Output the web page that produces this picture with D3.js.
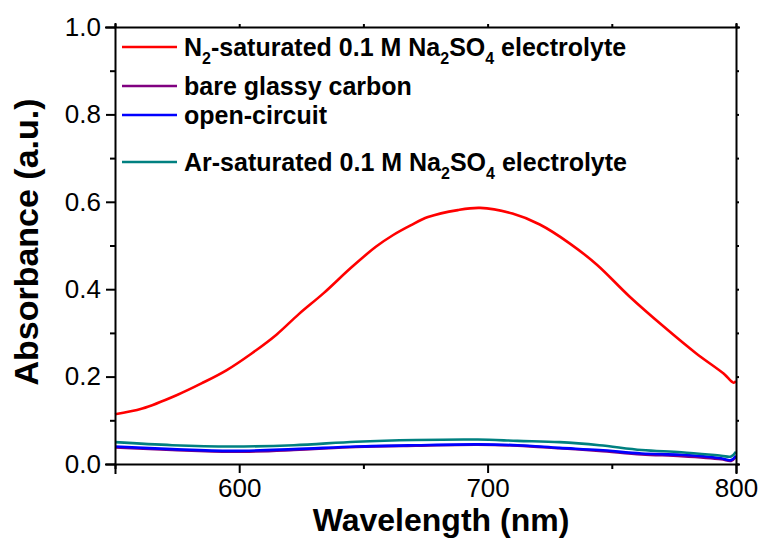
<!DOCTYPE html>
<meta charset="utf-8">
<html>
<head>
<style>
  body { margin: 0; background: #fff; }
  svg { font-family: "Liberation Sans", Arial, sans-serif; }
  .tick text { font-size: 26px; fill: #000; }
  .axis path, .axis line { stroke: #000; stroke-width: 2; }
</style>
</head>
<script src="https://d3js.org/d3.v7.min.js"></script>
<body>
<div id="vis"></div>
<script>
  // values
  var wlRed = [550, 561, 575, 585, 595, 605, 615, 624, 634, 645, 655, 662, 669, 676, 688, 697, 710, 721, 733, 744, 757, 771, 784, 795, 799, 800];
  var absRed = [0.114, 0.127, 0.158, 0.185, 0.215, 0.253, 0.296, 0.343, 0.391, 0.449, 0.497, 0.524, 0.546, 0.565, 0.581, 0.586, 0.573, 0.548, 0.505, 0.456, 0.384, 0.314, 0.253, 0.207, 0.186, 0.190];

  var wlLow = [550, 573, 597, 622, 647, 671, 696, 712, 729, 745, 762, 778, 794, 798, 800];
  var absPurple = [0.038, 0.032, 0.028, 0.032, 0.039, 0.042, 0.044, 0.042, 0.036, 0.030, 0.022, 0.018, 0.011, 0.007, 0.016];
  var absBlue   = [0.040, 0.034, 0.030, 0.034, 0.040, 0.043, 0.045, 0.043, 0.037, 0.032, 0.024, 0.021, 0.013, 0.009, 0.019];
  var absTeal   = [0.050, 0.043, 0.040, 0.043, 0.051, 0.055, 0.056, 0.053, 0.050, 0.043, 0.032, 0.027, 0.019, 0.017, 0.028];

  var xMajor = [600, 700, 800];
  var xMinor = [550, 650, 750];
  var yMajor = [0, 0.2, 0.4, 0.6, 0.8, 1.0];
  var yMinor = [0.1, 0.3, 0.5, 0.7, 0.9];

  var series = [
    {name: "red",    color: "#ff0000", wl: wlRed, abs: absRed},
    {name: "purple", color: "#800080", wl: wlLow, abs: absPurple},
    {name: "blue",   color: "#0000ff", wl: wlLow, abs: absBlue},
    {name: "teal",   color: "#008080", wl: wlLow, abs: absTeal}
  ];

  var legendItems = [
    {color: "#ff0000", parts: [["N", 0], ["2", 1], ["-saturated 0.1 M Na", 0], ["2", 1], ["SO", 0], ["4", 1], [" electrolyte", 0]]},
    {color: "#800080", parts: [["bare glassy carbon", 0]]},
    {color: "#0000ff", parts: [["open-circuit", 0]]},
    {color: "#008080", parts: [["Ar-saturated 0.1 M Na", 0], ["2", 1], ["SO", 0], ["4", 1], [" electrolyte", 0]]}
  ];
  var legendY = [47, 86, 115, 162];

  var W = 766, H = 542;
  var margin = {top: 27, right: 30, bottom: 78, left: 115},
  width = 736 - margin.left,
  height = 464 - margin.top;

  var x = d3.scaleLinear().domain([550, 800]).range([0, width]);
  var y = d3.scaleLinear().domain([0, 1]).range([height, 0]);

  var svg = d3.select("#vis").append("svg")
  .attr("width", W)
  .attr("height", H)
  .append("g")
  .attr("transform", "translate(" + margin.left + "," + margin.top + ")");

  // data lines
  var line = d3.line()
  .x(function(d) { return x(d[0]); })
  .y(function(d) { return y(d[1]); })
  .curve(d3.curveCatmullRom.alpha(0.5));

  series.forEach(function(s) {
    svg.append("path")
    .datum(d3.zip(s.wl, s.abs))
    .attr("fill", "none")
    .attr("stroke", s.color)
    .attr("stroke-width", 2.6)
    .attr("stroke-linejoin", "round")
    .attr("d", line);
  });

  // axes
  svg.append("g").attr("class", "axis")
  .attr("transform", "translate(0," + height + ")")
  .call(d3.axisBottom(x).tickValues(xMajor).tickSize(9).tickPadding(6).tickFormat(d3.format("d")));
  svg.append("g").attr("class", "axis")
  .attr("transform", "translate(0," + height + ")")
  .call(d3.axisBottom(x).tickValues(xMinor).tickSize(5).tickFormat(""))
  .select(".domain").remove();

  svg.append("g").attr("class", "axis")
  .call(d3.axisLeft(y).tickValues(yMajor).tickSize(9).tickPadding(5).tickFormat(d3.format(".1f")));
  svg.append("g").attr("class", "axis")
  .call(d3.axisLeft(y).tickValues(yMinor).tickSize(5).tickFormat(""))
  .select(".domain").remove();

  // mirrored top and right
  svg.append("g").attr("class", "axis")
  .call(d3.axisTop(x).tickValues(xMajor.concat(xMinor)).tickSize(3).tickFormat(""));
  svg.append("g").attr("class", "axis")
  .attr("transform", "translate(" + width + ",0)")
  .call(d3.axisRight(y).tickValues(yMajor.concat(yMinor)).tickSize(3).tickFormat(""));

  svg.selectAll(".axis .domain").attr("stroke-linecap", "square");

  // axis titles
  svg.append("text")
  .attr("x", 441 - margin.left)
  .attr("y", 531 - margin.top)
  .attr("text-anchor", "middle")
  .style("font-size", "32px")
  .style("font-weight", "bold")
  .text("Wavelength (nm)");

  svg.append("text")
  .attr("transform", "translate(" + (38 - margin.left) + "," + (242 - margin.top) + ") rotate(-90)")
  .attr("text-anchor", "middle")
  .style("font-size", "34px")
  .style("font-weight", "bold")
  .text("Absorbance (a.u.)");

  // legend
  var legend = svg.append("g").attr("transform", "translate(" + (-margin.left) + "," + (-margin.top) + ")");
  legendItems.forEach(function(item, i) {
    var ly = legendY[i];
    legend.append("line")
    .attr("x1", 122).attr("x2", 177)
    .attr("y1", ly).attr("y2", ly)
    .attr("stroke", item.color)
    .attr("stroke-width", 2.6);

    var t = legend.append("text")
    .attr("x", 184)
    .attr("y", ly + 9)
    .style("font-size", "25px")
    .style("font-weight", "bold");
    var prevSub = 0;
    item.parts.forEach(function(p) {
      t.append("tspan")
      .attr("dy", (p[1] ? 8 : 0) - (prevSub ? 8 : 0))
      .style("font-size", p[1] ? "16px" : "25px")
      .text(p[0]);
      prevSub = p[1];
    });
  });
</script>
</body>
</html>
